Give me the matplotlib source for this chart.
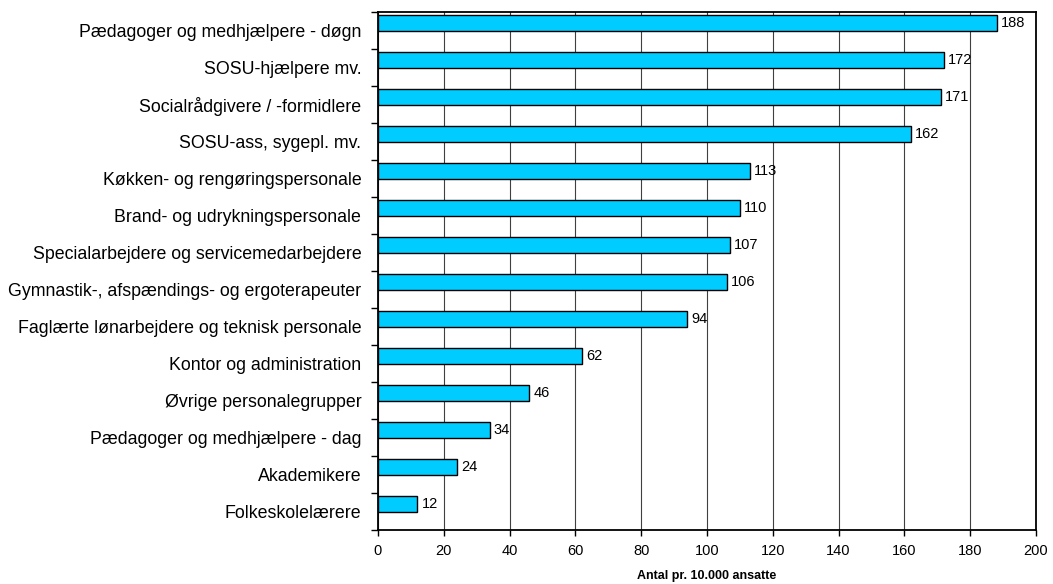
import numpy as np
import matplotlib
matplotlib.use("Agg")
from matplotlib import pyplot as plt

plt.rcParams['font.family'] = ['Liberation Sans', 'DejaVu Sans']

categories = [
    "Pædagoger og medhjælpere - døgn",
    "SOSU-hjælpere mv.",
    "Socialrådgivere / -formidlere",
    "SOSU-ass, sygepl. mv.",
    "Køkken- og rengøringspersonale",
    "Brand- og udrykningspersonale",
    "Specialarbejdere og servicemedarbejdere",
    "Gymnastik-, afspændings- og ergoterapeuter",
    "Faglærte lønarbejdere og teknisk personale",
    "Kontor og administration",
    "Øvrige personalegrupper",
    "Pædagoger og medhjælpere - dag",
    "Akademikere",
    "Folkeskolelærere",
]
values = [188, 172, 171, 162, 113, 110, 107, 106, 94, 62, 46, 34, 24, 12]

fig = plt.figure(figsize=(10.53, 5.84), dpi=100)
ax = fig.add_axes([378 / 1053, 54 / 584, 658 / 1053, 518 / 584])

n = len(categories)
pos = np.arange(n)
bar_h = 0.43
shift = -0.2  # bars sit in the upper part of each slot
ax.barh(pos + shift, values, height=bar_h, color='#00CCFF',
        edgecolor='black', linewidth=1.0, zorder=3)

for p, v in zip(pos, values):
    ax.text(v + 1.2, p + shift, str(v), va='center', ha='left',
            fontsize=10.5, zorder=4)

ax.set_xlim(0, 200)
ax.set_ylim(n - 0.5, -0.5)
ax.set_xticks(np.arange(0, 201, 20))
ax.tick_params(axis='x', labelsize=10.5, direction='out', length=4,
               width=1, pad=6)

# category labels centred in their slots, ticks on the slot borders
ax.set_yticks(pos)
ax.set_yticklabels(categories, fontsize=12.8)
ax.tick_params(axis='y', which='major', length=0, pad=12)
ax.set_yticks(np.arange(-0.5, n, 1.0), minor=True)
ax.tick_params(axis='y', which='minor', direction='out', length=5, width=1)

ax.xaxis.grid(True, color='#404040', linewidth=0.8, zorder=0)
for s in ax.spines.values():
    s.set_linewidth(1.3)

ax.set_xlabel("Antal pr. 10.000 ansatte", fontsize=9, fontweight='bold',
              labelpad=9)

fig.savefig('out.png', dpi=100)
plt.close()
